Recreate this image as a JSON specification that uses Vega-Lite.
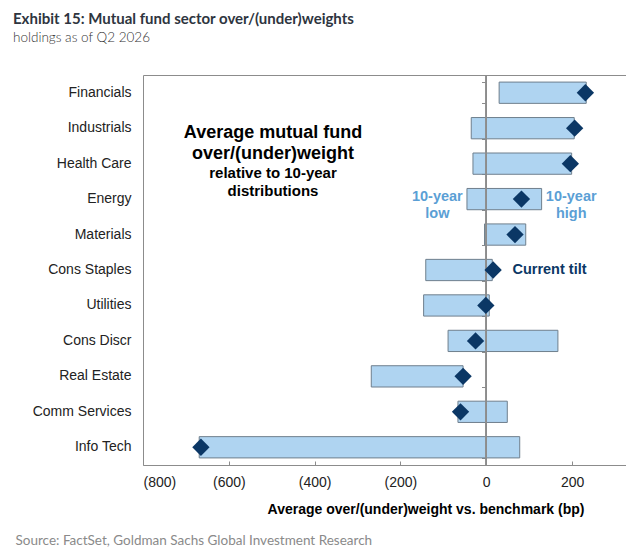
{
  "$schema": "https://vega.github.io/schema/vega-lite/v6.json",
  "width": 484,
  "height": 390,
  "autosize": {"type": "none"},
  "padding": {"left": 143, "top": 75, "right": 0, "bottom": 95},
  "background": "white",
  "config": {
    "view": {"stroke": "#8c8c8c", "strokeWidth": 1},
    "font": "Liberation Sans"
  },
  "title": {
    "text": "Exhibit 15: Mutual fund sector over/(under)weights",
    "subtitle": "holdings as of Q2 2026",
    "anchor": "start",
    "frame": "group",
    "dx": -130,
    "offset": 30,
    "font": "Lato",
    "fontSize": 15,
    "fontWeight": "bold",
    "color": "#2e3540",
    "subtitleFont": "Lato",
    "subtitleFontSize": 13.5,
    "subtitleFontWeight": 300,
    "subtitleColor": "#333333",
    "subtitlePadding": 4
  },
  "data": {
    "values": [
      {"sector": "Financials", "low": 30, "high": 233, "current": 231},
      {"sector": "Industrials", "low": -35, "high": 205, "current": 206},
      {"sector": "Health Care", "low": -31, "high": 199, "current": 196},
      {"sector": "Energy", "low": -45, "high": 129, "current": 82},
      {"sector": "Materials", "low": -4, "high": 92, "current": 67},
      {"sector": "Cons Staples", "low": -141, "high": 14, "current": 16},
      {"sector": "Utilities", "low": -146, "high": 7, "current": -1},
      {"sector": "Cons Discr", "low": -89, "high": 167, "current": -25},
      {"sector": "Real Estate", "low": -268, "high": -54, "current": -54},
      {"sector": "Comm Services", "low": -66, "high": 49, "current": -60},
      {"sector": "Info Tech", "low": -669, "high": 78, "current": -665}
    ]
  },
  "resolve": {"axis": {"y": "independent"}},
  "layer": [
    {
      "mark": {"type": "bar", "fill": "#afd4f1", "stroke": "#6f7f8d", "strokeWidth": 1},
      "encoding": {
        "y": {
          "field": "sector",
          "type": "nominal",
          "sort": null,
          "scale": {
            "domain": ["Financials", "Industrials", "Health Care", "Energy", "Materials", "Cons Staples", "Utilities", "Cons Discr", "Real Estate", "Comm Services", "Info Tech"],
            "paddingInner": 0.4,
            "paddingOuter": 0.2
          },
          "axis": {
            "orient": "left",
            "title": "Source: FactSet, Goldman Sachs Global Investment Research",
            "titleAngle": 0,
            "titleAlign": "left",
            "titleBaseline": "middle",
            "titleX": -128,
            "titleY": 465,
            "titleFont": "Lato",
            "titleFontSize": 13.5,
            "titleFontWeight": "normal",
            "titleColor": "#8a8a8a",
            "labelFont": "Liberation Sans",
            "labelFontSize": 14,
            "labelColor": "#222222",
            "labelPadding": 12,
            "ticks": false,
            "domain": false,
            "grid": false
          }
        },
        "x": {
          "field": "low",
          "type": "quantitative",
          "scale": {"domain": [-800, 328], "nice": false, "zero": false},
          "axis": {
            "values": [-800, -600, -400, -200, 0, 200],
            "labelExpr": "datum.value < 0 ? '(' + format(-datum.value, 'd') + ')' : format(datum.value, 'd')",
            "labelFont": "Liberation Sans",
            "labelFontSize": 14,
            "labelColor": "#222222",
            "labelPadding": 14,
            "tickSize": -4,
            "tickColor": "#8c8c8c",
            "domain": false,
            "grid": false,
            "title": "Average over/(under)weight vs. benchmark (bp)",
            "titleFont": "Liberation Sans",
            "titleFontSize": 14,
            "titleFontWeight": "bold",
            "titleColor": "#000000",
            "titleX": 282.5,
            "titleAlign": "center",
            "titleBaseline": "middle",
            "titleY": 44
          }
        },
        "x2": {"field": "high"}
      }
    },
    {
      "mark": {"type": "rule", "color": "#8c8c8c", "strokeWidth": 1},
      "encoding": {"x": {"datum": 0}}
    },
    {
      "mark": {"type": "point", "shape": "diamond", "filled": true, "fill": "#0b3765", "opacity": 1, "size": 300},
      "encoding": {
        "x": {"field": "current", "type": "quantitative"},
        "y": {
          "field": "sector",
          "type": "nominal",
          "sort": null,
          "axis": {
            "orient": "left",
            "offset": -343.5,
            "labels": false,
            "ticks": true,
            "tickBand": "extent",
            "tickSize": 5,
            "tickColor": "#8c8c8c",
            "domain": false,
            "grid": false,
            "title": null
          }
        }
      }
    },
    {
      "data": {"values": [{"t": "Average mutual fund\nover/(under)weight", "x": -497, "sector": "Industrials"}]},
      "mark": {"type": "text", "font": "Liberation Sans", "fontSize": 18, "fontWeight": "bold", "lineBreak": "\n", "lineHeight": 21, "align": "center", "baseline": "middle", "dy": 5, "color": "#000000"},
      "encoding": {
        "x": {"field": "x", "type": "quantitative"},
        "y": {"field": "sector", "type": "nominal", "axis": null},
        "text": {"field": "t"}
      }
    },
    {
      "data": {"values": [{"t": "relative to 10-year\ndistributions", "x": -497, "sector": "Energy"}]},
      "mark": {"type": "text", "font": "Liberation Sans", "fontSize": 15, "fontWeight": "bold", "lineBreak": "\n", "lineHeight": 18, "align": "center", "baseline": "middle", "dy": -26, "color": "#000000"},
      "encoding": {
        "x": {"field": "x", "type": "quantitative"},
        "y": {"field": "sector", "type": "nominal", "axis": null},
        "text": {"field": "t"}
      }
    },
    {
      "data": {"values": [{"t": "10-year\nlow", "x": -114, "sector": "Energy"}, {"t": "10-year\nhigh", "x": 198, "sector": "Energy"}]},
      "mark": {"type": "text", "font": "Liberation Sans", "fontSize": 14.5, "fontWeight": "bold", "lineBreak": "\n", "lineHeight": 17, "align": "center", "baseline": "middle", "dy": -2, "color": "#5b9fd5"},
      "encoding": {
        "x": {"field": "x", "type": "quantitative"},
        "y": {"field": "sector", "type": "nominal", "axis": null},
        "text": {"field": "t"}
      }
    },
    {
      "data": {"values": [{"t": "Current tilt", "x": 61, "sector": "Cons Staples"}]},
      "mark": {"type": "text", "font": "Liberation Sans", "fontSize": 14.5, "fontWeight": "bold", "align": "left", "baseline": "middle", "color": "#0b3765"},
      "encoding": {
        "x": {"field": "x", "type": "quantitative"},
        "y": {"field": "sector", "type": "nominal", "axis": null},
        "text": {"field": "t"}
      }
    }
  ]
}
